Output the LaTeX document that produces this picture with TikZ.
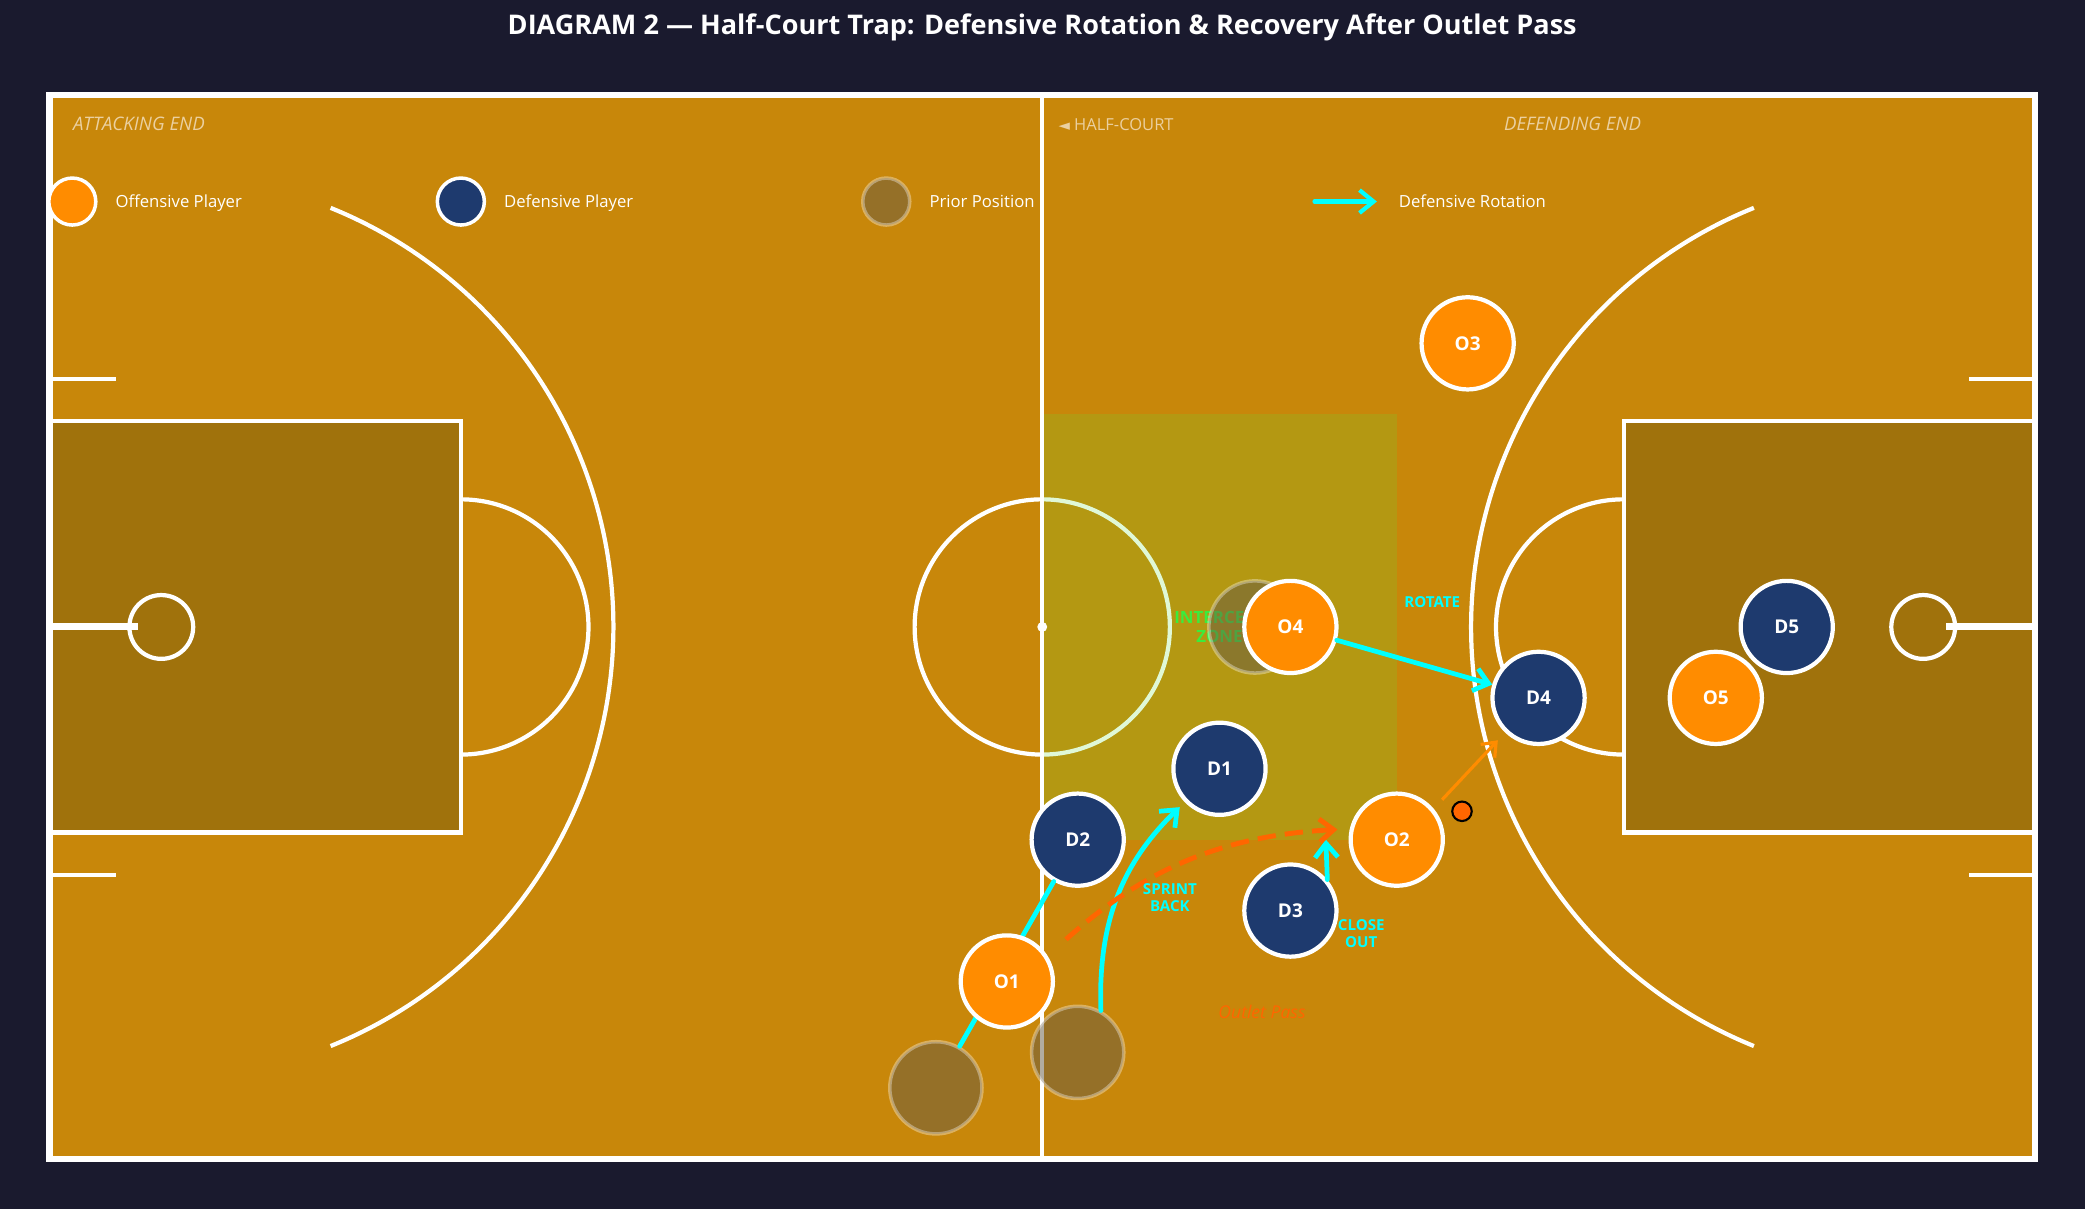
\documentclass[tikz,border=0pt]{standalone}
\usepackage{fontspec}
\setmainfont{Open Sans}
\newfontfamily\symfont{DejaVu Sans}
\usetikzlibrary{arrows.meta}
\definecolor{bgnavy}{HTML}{1A1A2E}
\definecolor{courtwood}{HTML}{C8870A}
\definecolor{paint}{HTML}{A0720C}
\definecolor{zonegreen}{RGB}{100,220,50}
\definecolor{offorange}{HTML}{FF8C00}
\definecolor{defnavy}{HTML}{1E3A6E}
\definecolor{ghostfill}{RGB}{100,90,70}
\definecolor{passorange}{HTML}{FF6600}
\definecolor{tagtext}{RGB}{235,208,160}
\definecolor{zonetext}{RGB}{60,235,60}
\definecolor{rotcyan}{RGB}{0,255,255}
\begin{document}
\begin{tikzpicture}[x=0.709cm,y=0.709cm]
\tikzstyle{every node}+=[inner sep=0pt]
\tikzstyle{courtline}=[white,line width=1.2pt]
\tikzstyle{player}=[circle,draw=white,line width=1.2pt,minimum size=0.922cm,text=white,font=\bfseries\fontsize{5.4}{6}\selectfont]
\tikzstyle{offense}=[player,fill=offorange]
\tikzstyle{defense}=[player,fill=defnavy]
\tikzstyle{prior}=[circle,minimum size=0.922cm,fill=ghostfill,fill opacity=0.5,draw=white,draw opacity=0.35,line width=1pt]
\tikzstyle{rotline}=[rotcyan,line width=1.35pt,line cap=round]
\tikzstyle{rotarrow}=[rotline,-{Straight Barb[length=4pt,width=6.5pt]}]
\tikzstyle{passline}=[passorange,line width=1.4pt,dash pattern=on 5.2pt off 2.6pt,-{Straight Barb[length=4pt,width=6.5pt]}]
\tikzstyle{carry}=[offorange,line width=0.9pt,-{Straight Barb[length=3.5pt,width=5.5pt]}]
\tikzstyle{cue}=[text=rotcyan,font=\bfseries\fontsize{4.3}{4.8}\selectfont,align=center]
\tikzstyle{endtag}=[text=tagtext,font=\fontsize{4.7}{5.5}\selectfont,anchor=base west]
\tikzstyle{legtext}=[text=white,font=\fontsize{4.75}{5.5}\selectfont,anchor=base west]
\tikzstyle{legdot}=[circle,minimum size=0.47cm,line width=1pt]
% background and floor
\fill [bgnavy] (-14.700,-8.209) rectangle (14.707,8.843);
\fill [courtwood] (-14,-7.5) rectangle (14,7.5);
\fill [paint] (-14,-2.9) rectangle (-8.2,2.9);
\fill [paint] (8.2,-2.9) rectangle (14,2.9);
% left end
\draw [courtline] (-14,-2.9) rectangle (-8.2,2.9);
\draw [courtline] (-8.2,-1.8) arc (-90:90:1.8);
\draw [courtline] (-12.425,0) circle (0.45);
\draw [white,line width=2pt] (-14,0) -- (-12.75,0);
\draw [courtline] (-12.425,0) ++(-68:6.375) arc (-68:68:6.375);
\draw [courtline,line width=1pt] (-14,3.5) -- (-13.07,3.5);
\draw [courtline,line width=1pt] (-14,-3.5) -- (-13.07,-3.5);
% right end
\draw [courtline] (8.2,-2.9) rectangle (14,2.9);
\draw [courtline] (8.2,1.8) arc (90:270:1.8);
\draw [courtline] (12.425,0) circle (0.45);
\draw [white,line width=2pt] (14,0) -- (12.75,0);
\draw [courtline] (12.425,0) ++(112:6.375) arc (112:248:6.375);
\draw [courtline,line width=1pt] (14,3.5) -- (13.07,3.5);
\draw [courtline,line width=1pt] (14,-3.5) -- (13.07,-3.5);
% centre
\draw [courtline] (0,0) circle (1.8);
\fill [zonegreen,opacity=0.2] (0,-3) rectangle (5,3);
\draw [courtline] (0,-7.5) -- (0,7.5);
\fill [white] (0,0) circle (0.07);
\draw [white,line width=1.8pt] (-14,-7.5) rectangle (14,7.5);
% title and end tags
\node [text=white,font=\bfseries\fontsize{7.7}{8}\selectfont,anchor=base] (title) at (0,8.35) {DIAGRAM 2 — Half-Court Trap: Defensive Rotation \& Recovery After Outlet Pass};
\node [endtag,font=\itshape\fontsize{5.3}{6}\selectfont] (attack) at (-13.68,7.0) {ATTACKING END};
\node [endtag] (half) at (0.22,7.0) {{\symfont\fontsize{4.2}{4}\selectfont ◄} HALF-COURT};
\node [endtag,anchor=base,font=\itshape\fontsize{5.3}{6}\selectfont] (defend) at (7.48,7.0) {DEFENDING END};
% legend
\node [legdot,fill=offorange,draw=white] (legoff) at (-13.68,6.0) {};
\node [legtext] at (-13.08,5.92) {Offensive Player};
\node [legdot,fill=defnavy,draw=white] (legdef) at (-8.2,6.0) {};
\node [legtext] at (-7.6,5.92) {Defensive Player};
\node [legdot,fill=ghostfill,fill opacity=0.5,draw=white,draw opacity=0.35] (legprior) at (-2.2,6.0) {};
\node [legtext] at (-1.6,5.92) {Prior Position};
\coordinate (legA) at (3.84,6.0);
\coordinate (legB) at (4.72,6.0);
\draw [rotarrow,line width=1.2pt] (legA) -- (legB);
\node [legtext] at (5.02,5.92) {Defensive Rotation};
% zone label
\node [text=zonetext,font=\bfseries\fontsize{4.8}{5.3}\selectfont,align=center] (zonelbl) at (2.5,0) {INTERCEPT\\ZONE};
% prior positions
\node [prior] (g1) at (-1.5,-6.5) {};
\node [prior] (g2) at (0.5,-6) {};
\node [prior] (g4) at (3,0) {};
% defenders
\node [defense] (D1) at (2.5,-2) {D1};
\node [defense] (D2) at (0.5,-3) {D2};
\node [defense] (D3) at (3.5,-4) {D3};
\node [defense] (D4) at (7,-1) {D4};
\node [defense] (D5) at (10.5,0) {D5};
\draw [rotline] (g1) -- (D2);
% offence
\node [offense] (O1) at (-0.5,-5) {O1};
\node [offense] (O2) at (5,-3) {O2};
\node [offense] (O3) at (6,4) {O3};
\node [offense] (O4) at (3.5,0) {O4};
\node [offense] (O5) at (9.5,-1) {O5};
\node [circle,fill=passorange,draw=black,line width=0.6pt,minimum size=0.195cm] (ball) at (5.92,-2.6) {};
% movement
\draw [rotarrow] (O4) -- (D4);
\draw [rotarrow,shorten >=2pt] (g2.61) to [out=92,in=224] (D1.224);
\coordinate (closeto) at (4,-3);
\draw [rotarrow] (D3.40) -- (closeto);
\draw [passline,shorten <=7pt,shorten >=3.5pt] (O1.32) to [out=42,in=183] (O2.167);
\draw [carry,shorten <=3.5pt,shorten >=3pt] (O2.40) -- (D4.226);
% cues
\node [cue] (rotlbl) at (5.5,0.35) {ROTATE};
\node [cue] (sprintlbl) at (1.8,-3.82) {SPRINT\\BACK};
\node [cue] (closelbl) at (4.5,-4.33) {CLOSE\\OUT};
\node [text=passorange,font=\itshape\fontsize{5}{5.5}\selectfont] (passlbl) at (3.1,-5.43) {Outlet Pass};
\end{tikzpicture}
\end{document}
